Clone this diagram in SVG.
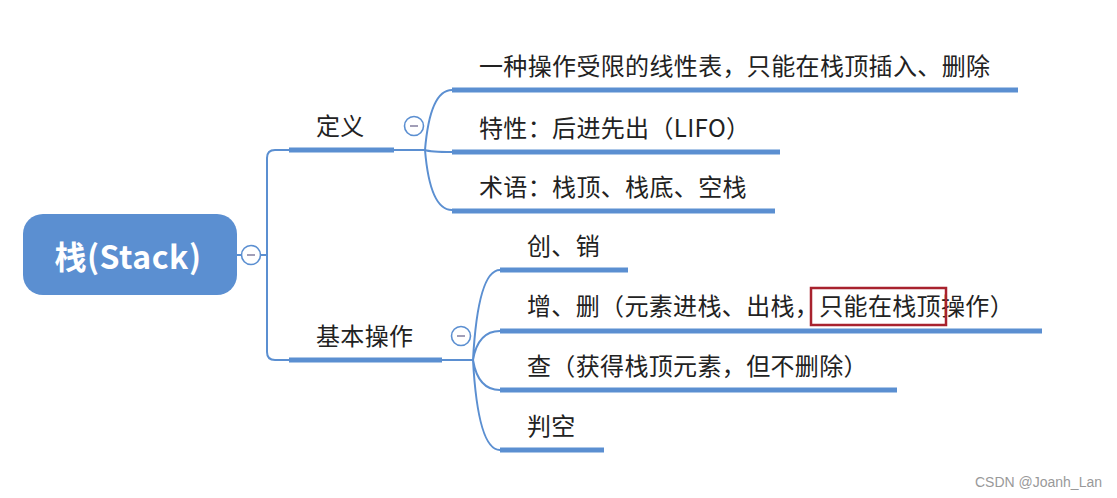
<svg xmlns="http://www.w3.org/2000/svg" width="1117" height="498" viewBox="0 0 1117 498">
<style>
.bar{stroke:#5b8fd1;stroke-width:5;fill:none}
.ln{stroke:#5b8fd1;stroke-width:2;fill:none}
.t{font-family:"Noto Sans CJK SC","Noto Sans",sans-serif;font-size:24px;letter-spacing:0.35px;fill:#222}
.btn{fill:#fff;stroke:#5b8fd1;stroke-width:1.6}
.minus{stroke:#8a86a6;stroke-width:1.6}
</style>
<rect width="1117" height="498" fill="#fff"/>
<g id="connectors">
<path class="ln" d="M237,255 H241 M261,255 H267 M289,150 H275 Q267,150 267,158 V352 Q267,360 275,360 H289"/>
<path class="ln" d="M394,150 H425 M425,150 Q430,90 452,90 M425,150 Q430,152 452,152 M425,150 Q430,210 452,210"/>
<path class="ln" d="M442,360 H473 M473,360 Q478,270 500,270 M473,360 Q478,331 500,331 M473,360 Q478,390 500,390 M473,360 Q478,450 500,450"/>
</g>
<g id="root">
<rect x="23" y="214" width="214" height="81" rx="20" fill="#5b8fd1"/>
<text x="128" y="269" text-anchor="middle" font-family="'Noto Sans CJK SC','Noto Sans',sans-serif" font-size="32" font-weight="bold" letter-spacing="0.5" fill="#fff">栈(Stack)</text>
<circle class="btn" cx="251" cy="255" r="9.5"/><line class="minus" x1="247" y1="255" x2="255" y2="255"/>
</g>
<g id="def">
<text class="t" x="316" y="135">定义</text>
<line class="bar" x1="289" y1="150" x2="394" y2="150"/>
<circle class="btn" cx="414" cy="126" r="9.5"/><line class="minus" x1="410" y1="126" x2="418" y2="126"/>
</g>
<g id="def1"><text class="t" x="479" y="75">一种操作受限的线性表，只能在栈顶插入、删除</text><line class="bar" x1="452" y1="90" x2="1018" y2="90"/></g>
<g id="def2"><text class="t" x="479" y="137">特性：后进先出（LIFO）</text><line class="bar" x1="452" y1="152" x2="780" y2="152"/></g>
<g id="def3"><text class="t" x="479" y="196">术语：栈顶、栈底、空栈</text><line class="bar" x1="452" y1="211" x2="775" y2="211"/></g>
<g id="ops">
<text class="t" x="316" y="345">基本操作</text>
<line class="bar" x1="289" y1="360" x2="442" y2="360"/>
<circle class="btn" cx="461" cy="336" r="9.5"/><line class="minus" x1="457" y1="336" x2="465" y2="336"/>
</g>
<g id="op1"><text class="t" x="527" y="255">创、销</text><line class="bar" x1="500" y1="270" x2="628" y2="270"/></g>
<g id="op2"><text class="t" x="527" y="315">增、删（元素进栈、出栈，只能在栈顶操作）</text><line class="bar" x1="500" y1="331" x2="1042" y2="331"/>
<rect x="811" y="288" width="135" height="37" fill="none" stroke="#a8222e" stroke-width="2.5"/></g>
<g id="op3"><text class="t" x="527" y="375">查（获得栈顶元素，但不删除）</text><line class="bar" x1="500" y1="390" x2="897" y2="390"/></g>
<g id="op4"><text class="t" x="527" y="435">判空</text><line class="bar" x1="500" y1="450" x2="604" y2="450"/></g>
<text x="1102" y="487" text-anchor="end" font-family="'Liberation Sans',Arial,sans-serif" font-size="14" fill="#999">CSDN @Joanh_Lan</text>
</svg>
